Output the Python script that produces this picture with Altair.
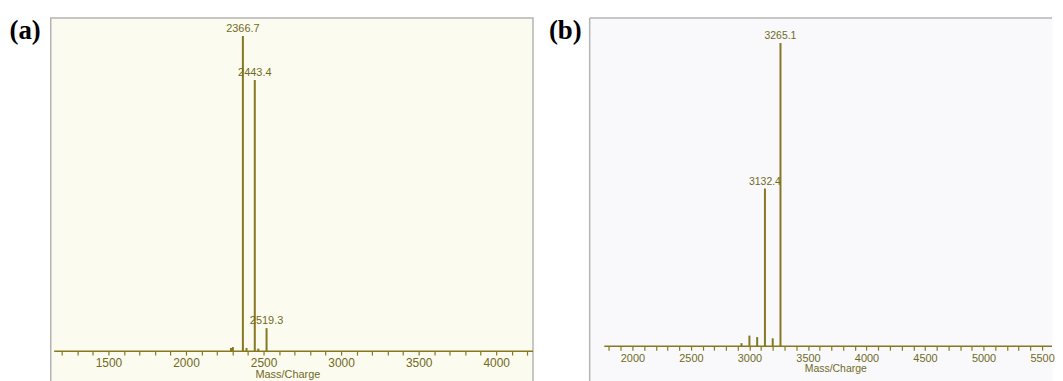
import altair as alt
import pandas as pd

# ---------------- data ----------------
panel_tags = ["(a)", "(b)"]
axis_title = "Mass/Charge"

# panel (a)
a_mass = [2290.0, 2302.0, 2366.7, 2390.0, 2443.4, 2466.0, 2519.3]
a_intensity = [1.0, 1.3, 100.0, 1.0, 86.0, 0.8, 7.3]
a_label_mass = [2366.7, 2443.4, 2519.3]
a_label_intensity = [100.0, 86.0, 7.3]
a_label_text = ["2366.7", "2443.4", "2519.3"]
a_ticks = list(range(1200, 4300, 100))
a_baseline = [1150.0, 4237.0]

# panel (b)
b_mass = [2932.0, 2999.7, 3066.0, 3132.4, 3198.8, 3265.1]
b_intensity = [1.0, 3.5, 3.0, 52.0, 2.6, 100.0]
b_label_mass = [3132.4, 3265.1]
b_label_intensity = [52.0, 100.0]
b_label_text = ["3132.4", "3265.1"]
b_ticks = list(range(1800, 5600, 100))
b_baseline = [1760.0, 5585.0]

LINE = "#857820"
TEXT = "#6f6a1e"
FRAME = "#b4b4b4"
FONT = "Liberation Sans, Arial"


def panel(tag, mass, inten, lab_mass, lab_int, lab_text, ticks, base,
          xdom, ydom, w, h, offset, fill, label_size, title_size, peak_size,
          title_x, title_y, tag_dx, full_frame):
    xs = alt.Scale(domain=xdom, nice=False, zero=False)
    ys = alt.Scale(domain=ydom, nice=False, zero=False)
    axis = alt.Axis(
        values=ticks, format="d", tickCount=500,
        labelExpr="datum.value % 500 === 0 ? datum.label : ''",
        tickSize=4,
        tickColor=LINE, tickWidth=1.2, domain=False, grid=False,
        offset=offset, labelPadding=2, labelOverlap=False, labelFlush=False,
        labelColor=TEXT, labelFont=FONT, labelFontSize=label_size,
        title=axis_title, titleFont=FONT, titleFontSize=title_size,
        titleFontWeight="normal", titleColor=TEXT,
        titleX=title_x, titleY=title_y, titleBaseline="middle",
        titleAlign="center",
    )
    peaks_df = pd.DataFrame({"mass": mass, "intensity": inten})
    peaks = alt.Chart(peaks_df).mark_rule(color=LINE, strokeWidth=2).encode(
        x=alt.X("mass:Q", scale=xs, axis=axis),
        y=alt.Y("intensity:Q", scale=ys, axis=None),
        y2=alt.datum(0),
    )
    base_df = pd.DataFrame({"start": [base[0]], "end": [base[1]]})
    baseline = alt.Chart(base_df).mark_rule(color=LINE, strokeWidth=1.5).encode(
        x="start:Q", x2="end:Q", y=alt.datum(0)
    )
    lab_df = pd.DataFrame({"mass": lab_mass, "intensity": lab_int, "label": lab_text})
    labels = alt.Chart(lab_df).mark_text(
        baseline="bottom", dy=-2, font=FONT, fontSize=peak_size, color=TEXT
    ).encode(x="mass:Q", y="intensity:Q", text="label:N")
    tag_df = pd.DataFrame({"tag": [tag]})
    tag_mark = alt.Chart(tag_df).mark_text(
        font="Liberation Serif", fontWeight="bold", fontSize=27,
        align="right", baseline="middle", color="black"
    ).encode(x=alt.value(tag_dx), y=alt.value(13), text="tag:N")
    layers = [peaks, baseline, labels, tag_mark]
    if full_frame:
        view = alt.ViewBackground(fill=fill, stroke=FRAME, strokeWidth=1.5)
    else:
        # frame continues past the picture edge: only left and top edges show
        view = alt.ViewBackground(fill=fill, strokeOpacity=0)
        left_edge = alt.Chart(tag_df).mark_rule(color=FRAME, strokeWidth=1.5).encode(
            x=alt.value(0), y=alt.value(0), y2=alt.value(h)
        )
        top_edge = alt.Chart(tag_df).mark_rule(color=FRAME, strokeWidth=1.5).encode(
            x=alt.value(0), x2=alt.value(w), y=alt.value(0)
        )
        layers += [left_edge, top_edge]
    return alt.layer(*layers).properties(width=w, height=h, view=view)


pa = panel(panel_tags[0], a_mass, a_intensity, a_label_mass, a_label_intensity, a_label_text,
           a_ticks, a_baseline, [1128, 4237], [-12.62, 105.68], 485, 375, -40,
           "#fcfbf0", 12, 11, 11, 238, 24, -10, True)
pb = panel(panel_tags[1], b_mass, b_intensity, b_label_mass, b_label_intensity, b_label_text,
           b_ticks, b_baseline, [1635, 5585], [-14.75, 108.2], 465, 375, -45,
           "#f9f9fb", 11, 10.5, 10.5, 247, 22, -8, False)

chart = alt.hconcat(pa, pb, spacing=14).properties(
    padding={"left": 0, "top": 7, "right": 0, "bottom": 0},
    background="white",
)

chart.save("out.html", embed_options={"renderer": "svg", "actions": False})
